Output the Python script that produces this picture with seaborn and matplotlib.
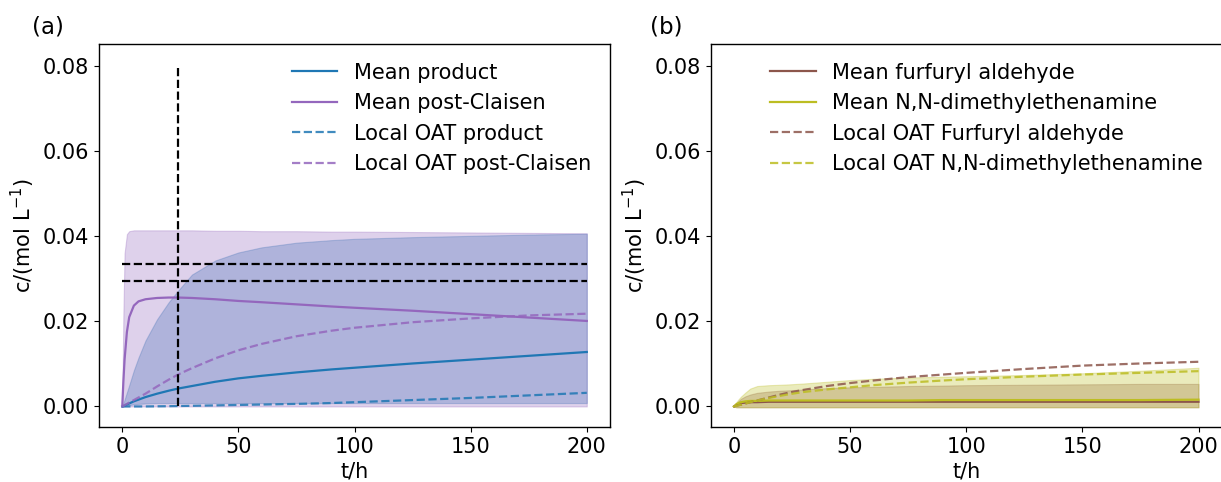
import numpy as np
import pandas as pd
import matplotlib
matplotlib.use("Agg")
import matplotlib.pyplot as plt
import seaborn as sns

# ---------------- data ----------------
t = [0, 0.5, 1, 2, 3, 5, 7, 10, 15, 20, 24, 30, 40, 50, 60, 75, 90, 100, 125, 150, 175, 200]

# panel (a)
mean_product = [0, 0.0001, 0.0002, 0.0005, 0.0007, 0.0012, 0.0016, 0.0022, 0.0030, 0.0037, 0.0042,
                0.0048, 0.0058, 0.0066, 0.0072, 0.0080, 0.0087, 0.0091, 0.0101, 0.0110, 0.0119, 0.0128]
mean_postclaisen = [0, 0.006, 0.011, 0.0175, 0.0210, 0.0237, 0.0247, 0.0252, 0.0255, 0.0256, 0.0256,
                    0.0255, 0.0252, 0.0248, 0.0245, 0.0240, 0.0235, 0.0232, 0.0225, 0.0217, 0.0209, 0.0201]
oat_product = [0, 0, 0, 0, 0, 0, 0, 0, 0.00003, 0.00006, 0.0001,
               0.00015, 0.00025, 0.00035, 0.00045, 0.0006, 0.0008, 0.0010, 0.0015, 0.0020, 0.0026, 0.0032]
oat_postclaisen = [0, 0.0001, 0.0003, 0.0006, 0.0009, 0.0015, 0.0021, 0.0030, 0.0047, 0.0063, 0.0075,
                   0.0090, 0.0113, 0.0132, 0.0147, 0.0165, 0.0178, 0.0185, 0.0198, 0.0207, 0.0214, 0.0218]
product_upper = [0, 0.0008, 0.0016, 0.0033, 0.0050, 0.0085, 0.0115, 0.0155, 0.0205, 0.0245, 0.0272,
                 0.0310, 0.0343, 0.0362, 0.0374, 0.0385, 0.0391, 0.0394, 0.0398, 0.0401, 0.0404, 0.0406]
product_lower = [0, 0, 0.0001, 0.0002, 0.0003, 0.0005, 0.0006, 0.0007, 0.0008, 0.0008, 0.0008,
                 0.0008, 0.0008, 0.0008, 0.0008, 0.0008, 0.0008, 0.0008, 0.0008, 0.0008, 0.0008, 0.0008]
postclaisen_upper = [0, 0.022, 0.036, 0.0405, 0.0412, 0.0414, 0.0414, 0.0414, 0.0414, 0.0414, 0.0414,
                     0.0414, 0.0413, 0.0413, 0.0412, 0.0412, 0.0411, 0.0411, 0.0410, 0.0409, 0.0408, 0.0407]
postclaisen_lower = [0] * len(t)

# panel (b)
mean_furfuryl = [0, 0.0002, 0.0004, 0.0006, 0.0008, 0.0009, 0.0010, 0.0010, 0.0011, 0.0011, 0.0011,
                 0.0011, 0.0011, 0.0011, 0.0011, 0.0011, 0.0011, 0.0011, 0.0011, 0.0011, 0.0011, 0.0011]
mean_enamine = [0, 0.0002, 0.0005, 0.0008, 0.0010, 0.0012, 0.0013, 0.0013, 0.0014, 0.0014, 0.0014,
                0.0014, 0.0014, 0.0014, 0.0014, 0.0014, 0.0015, 0.0015, 0.0015, 0.0015, 0.0015, 0.0016]
oat_furfuryl = [0, 0.00007, 0.00014, 0.0003, 0.0004, 0.0007, 0.0010, 0.0014, 0.0021, 0.0028, 0.0033,
                0.0039, 0.0048, 0.0055, 0.0061, 0.0069, 0.0075, 0.0079, 0.0088, 0.0096, 0.0101, 0.0105]
oat_enamine = [0, 0.0001, 0.0001, 0.0003, 0.0004, 0.0007, 0.0010, 0.0014, 0.0020, 0.0025, 0.0029,
               0.0034, 0.0040, 0.0045, 0.0050, 0.0056, 0.0061, 0.0064, 0.0070, 0.0075, 0.0079, 0.0083]
furfuryl_upper = [0, 0.0004, 0.0008, 0.0013, 0.0018, 0.0024, 0.0028, 0.0032, 0.0035, 0.0037, 0.0038,
                  0.0040, 0.0043, 0.0045, 0.0046, 0.0048, 0.0049, 0.0050, 0.0051, 0.0052, 0.0053, 0.0053]
furfuryl_lower = [0, -0.0001, -0.0002, -0.0002, -0.0002, -0.0002, -0.0002, -0.0002, -0.0002, -0.0002, -0.0002,
                  -0.0002, -0.0002, -0.0002, -0.0002, -0.0002, -0.0002, -0.0002, -0.0002, -0.0002, -0.0002, -0.0002]
enamine_upper = [0, 0.0005, 0.0010, 0.0017, 0.0023, 0.0033, 0.0042, 0.0048, 0.0050, 0.0051, 0.0052,
                 0.0054, 0.0058, 0.0062, 0.0065, 0.0068, 0.0070, 0.0071, 0.0074, 0.0078, 0.0084, 0.0091]
enamine_lower = furfuryl_lower

# reference lines in (a)
vline_t = 24
vline_range = [0, 0.08]
hline_levels = [0.0294, 0.0336]

# ---------------- style ----------------
FS = 15
plt.rcParams.update({
    "font.size": FS,
    "axes.labelsize": FS,
    "xtick.labelsize": FS,
    "ytick.labelsize": FS,
    "legend.fontsize": FS,
})
plt.rcParams["font.family"] = ["DejaVu Sans"]

fig = plt.figure(figsize=(12.21, 4.82), dpi=100)
ax1 = fig.add_axes([0.0811, 0.1135, 0.4185, 0.7952])
ax2 = fig.add_axes([0.5821, 0.1135, 0.4185, 0.7952])

BLUE, PURPLE, BROWN, OLIVE = "#1f77b4", "#9467bd", "#8c564b", "#bcbd22"

# ----- panel (a)
ax1.fill_between(t, product_lower, product_upper, color=BLUE, alpha=0.3, lw=0.8)
ax1.fill_between(t, postclaisen_lower, postclaisen_upper, color=PURPLE, alpha=0.3, lw=0.8)
sns.lineplot(x=t, y=mean_product, ax=ax1, color=BLUE, lw=1.6, label="Mean product")
sns.lineplot(x=t, y=mean_postclaisen, ax=ax1, color=PURPLE, lw=1.6, label="Mean post-Claisen")
sns.lineplot(x=t, y=oat_product, ax=ax1, color=BLUE, lw=1.6, alpha=0.85, linestyle="--",
             label="Local OAT product")
sns.lineplot(x=t, y=oat_postclaisen, ax=ax1, color=PURPLE, lw=1.6, alpha=0.85, linestyle="--",
             label="Local OAT post-Claisen")
ax1.plot([vline_t, vline_t], vline_range, color="black", lw=1.6, linestyle="--")
for h in hline_levels:
    ax1.plot([t[0], t[-1]], [h, h], color="black", lw=1.6, linestyle="--")

# ----- panel (b)
ax2.fill_between(t, furfuryl_lower, furfuryl_upper, color=BROWN, alpha=0.3, lw=0.8)
ax2.fill_between(t, enamine_lower, enamine_upper, color=OLIVE, alpha=0.3, lw=0.8)
sns.lineplot(x=t, y=mean_furfuryl, ax=ax2, color=BROWN, lw=1.6, label="Mean furfuryl aldehyde")
sns.lineplot(x=t, y=mean_enamine, ax=ax2, color=OLIVE, lw=1.6, label="Mean N,N-dimethylethenamine")
sns.lineplot(x=t, y=oat_furfuryl, ax=ax2, color=BROWN, lw=1.6, alpha=0.85, linestyle="--",
             label="Local OAT Furfuryl aldehyde")
sns.lineplot(x=t, y=oat_enamine, ax=ax2, color=OLIVE, lw=1.6, alpha=0.85, linestyle="--",
             label="Local OAT N,N-dimethylethenamine")

for ax in (ax1, ax2):
    ax.set_xlim(-10, 210)
    ax.set_ylim(-0.0049, 0.0852)
    ax.set_xticks([0, 50, 100, 150, 200])
    ax.set_yticks([0.00, 0.02, 0.04, 0.06, 0.08])
    ax.set_yticklabels(["0.00", "0.02", "0.04", "0.06", "0.08"])
    ax.set_xlabel("t/h", labelpad=3)
    ax.set_ylabel("c/(mol L$^{-1}$)")
    ax.legend(loc="upper right", frameon=False, handlelength=2.2, labelspacing=0.5)
    for s in ax.spines.values():
        s.set_visible(True)
        s.set_color("black")
        s.set_linewidth(1.0)

fig.text(0.026, 0.945, "(a)", fontsize=16.5, va="center", ha="left")
fig.text(0.532, 0.945, "(b)", fontsize=16.5, va="center", ha="left")

fig.savefig("out.png", dpi=100)
